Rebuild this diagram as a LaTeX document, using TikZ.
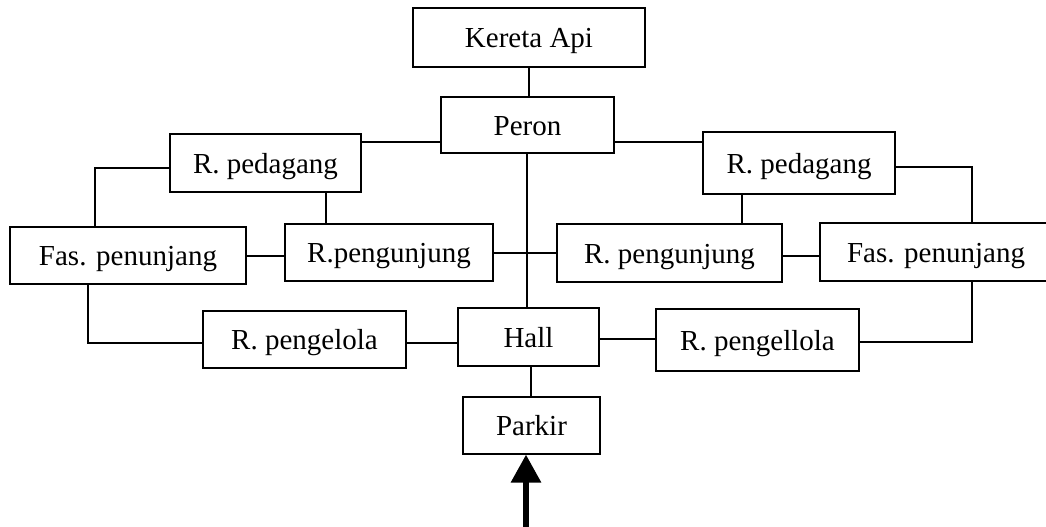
\documentclass[tikz,border=0pt]{standalone}
\usepackage{fontspec}
\setmainfont{Liberation Serif}
\usetikzlibrary{arrows.meta}
\begin{document}
\begin{tikzpicture}[x=1pt,y=-1pt,
  box/.style={draw,line width=1.2pt,inner sep=0pt,font=\fontsize{29}{32}\selectfont,text height=25pt,text depth=5pt},
  conn/.style={line width=1.2pt},
  entryarrow/.style={line width=6pt,-{Triangle[length=28pt,width=29pt]}}]
\clip (0,0) rectangle (1046,527);
\fill[white] (0,0) rectangle (1046,527);
\node[box,minimum width=232pt,minimum height=59pt] (kereta) at (529,37.5) {Kereta Api};
\node[box,minimum width=173pt,minimum height=56pt] (peron) at (527.5,125) {Peron};
\node[box,minimum width=191pt,minimum height=58pt] (pedL) at (265.5,163) {R. pedagang};
\node[box,minimum width=192pt,minimum height=62pt] (pedR) at (799,163) {R. pedagang};
\node[box,minimum width=236pt,minimum height=57pt] (fasL) at (128,255.5) {Fas. penunjang};
\node[box,minimum width=208pt,minimum height=57pt] (pengL) at (389,252.5) {R.pengunjung};
\node[box,minimum width=225pt,minimum height=58pt] (pengR) at (669.5,253) {R. pengunjung};
\node[box,minimum width=232pt,minimum height=58pt] (fasR) at (936,252) {Fas. penunjang};
\node[box,minimum width=203pt,minimum height=57pt] (pglL) at (304.5,339.5) {R. pengelola};
\node[box,minimum width=141pt,minimum height=58pt] (hall) at (528.5,337) {Hall};
\node[box,minimum width=203pt,minimum height=62pt] (pglR) at (757.5,340) {R. pengellola};
\node[box,minimum width=137pt,minimum height=57pt] (parkir) at (531.5,425.5) {Parkir};
\coordinate (entry) at (526,527);

\draw[conn] (kereta.south -| 529,0) -- (peron.north -| 529,0);
\draw[conn] (pedL.east |- 0,142) -- (peron.west |- 0,142);
\draw[conn] (pedR.west |- 0,142) -- (peron.east |- 0,142);
\draw[conn] (pedL.west |- 0,168) -| (fasL.north -| 95,0);
\draw[conn] (pedL.south -| 326,0) -- (pengL.north -| 326,0);
\draw[conn] (pedR.south -| 742,0) -- (pengR.north -| 742,0);
\draw[conn] (pedR.east |- 0,167) -| (fasR.north -| 972,0);
\draw[conn] (peron.south -| 527,0) -- (hall.north -| 527,0);
\draw[conn] (pengL.east |- 0,253) -- (pengR.west |- 0,253);
\draw[conn] (fasL.east |- 0,256) -- (pengL.west |- 0,256);
\draw[conn] (pengR.east |- 0,256) -- (fasR.west |- 0,256);
\draw[conn] (fasL.south -| 88,0) |- (pglL.west |- 0,343);
\draw[conn] (hall.west |- 0,343) -- (pglL.east |- 0,343);
\draw[conn] (hall.east |- 0,339) -- (pglR.west |- 0,339);
\draw[conn] (pglR.east |- 0,342) -| (fasR.south -| 972,0);
\draw[conn] (hall.south -| 531,0) -- (parkir.north -| 531,0);
\draw[entryarrow] (entry) -- (parkir.south -| entry);
\end{tikzpicture}
\end{document}
